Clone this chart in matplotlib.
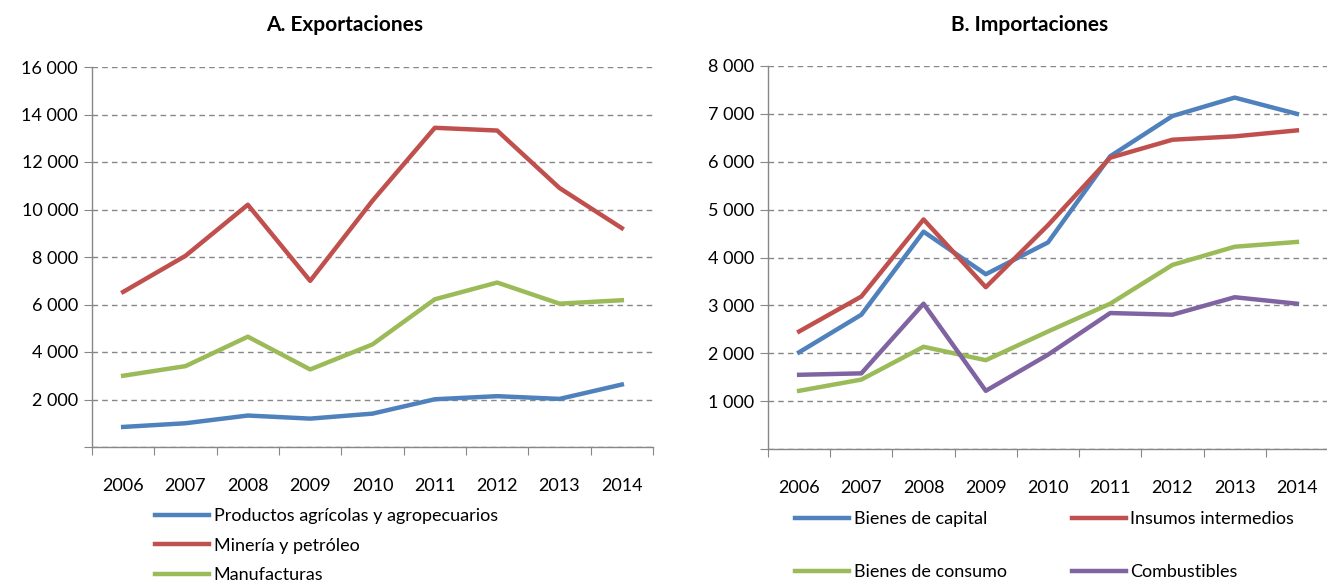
import numpy as np
import matplotlib
matplotlib.use("Agg")
import matplotlib.pyplot as plt
from matplotlib.ticker import FixedLocator, FuncFormatter

plt.rcParams.update({
    "font.family": ["Lato", "DejaVu Sans"],
    "font.size": 13,
})

years = ["2006", "2007", "2008", "2009", "2010", "2011", "2012", "2013", "2014"]

# A. Exportaciones
agricolas = [845, 1000, 1325, 1195, 1405, 2010, 2140, 2025, 2630]
mineria = [6530, 8050, 10200, 6995, 10370, 13440, 13325, 10905, 9215]
manufacturas = [3000, 3405, 4645, 3265, 4320, 6220, 6925, 6035, 6180]

# B. Importaciones
capital = [2020, 2805, 4540, 3650, 4315, 6115, 6955, 7340, 7000]
intermedios = [2455, 3185, 4795, 3380, 4675, 6085, 6460, 6530, 6655]
consumo = [1215, 1450, 2135, 1855, 2455, 3035, 3845, 4225, 4325]
combustibles = [1550, 1580, 3035, 1215, 1970, 2840, 2805, 3170, 3035]

BLUE, RED, GREEN, PURPLE = "#4F81BD", "#C0504D", "#9BBB59", "#8064A2"
GRID = "#878787"

fig = plt.figure(figsize=(13.27, 5.86), dpi=100)
ax1 = fig.add_axes([92 / 1327, 139 / 586, 561 / 1327, 380 / 586])
ax2 = fig.add_axes([768 / 1327, 137 / 586, 560 / 1327, 383 / 586])

x = np.arange(len(years))
# Excel-style: thin separator, no label at zero
thousands = FuncFormatter(lambda v, p: "" if v == 0 else f"{int(v):,}".replace(",", " "))


def style(ax, ymax, step):
    ax.set_xlim(-0.5, len(years) - 0.5)
    ax.set_ylim(0, ymax)
    ax.xaxis.set_major_locator(FixedLocator(np.arange(-0.5, len(years), 1.0)))
    ax.xaxis.set_minor_locator(FixedLocator(x))
    ax.set_xticklabels([])
    ax.set_xticklabels(years, minor=True)
    ax.tick_params(axis="x", which="major", length=6, color=GRID, direction="out")
    ax.tick_params(axis="x", which="minor", length=0, pad=22, labelsize=13)
    ax.set_yticks(np.arange(0, ymax + 1, step))
    ax.yaxis.set_major_formatter(thousands)
    ax.tick_params(axis="y", length=6, color=GRID, pad=4, labelsize=13)
    for s in ["top", "right"]:
        ax.spines[s].set_visible(False)
    for s in ["left", "bottom"]:
        ax.spines[s].set_color(GRID)
        ax.spines[s].set_linewidth(1.0)
    ax.yaxis.grid(True, linestyle=(0, (4, 3)), color=GRID, linewidth=1.0)
    ax.set_axisbelow(True)


lw = 3.2
ax1.plot(x, agricolas, color=BLUE, lw=lw, label="Productos agrícolas y agropecuarios")
ax1.plot(x, mineria, color=RED, lw=lw, label="Minería y petróleo")
ax1.plot(x, manufacturas, color=GREEN, lw=lw, label="Manufacturas")
style(ax1, 16000, 2000)

ax2.plot(x, capital, color=BLUE, lw=lw, label="Bienes de capital")
ax2.plot(x, intermedios, color=RED, lw=lw, label="Insumos intermedios")
ax2.plot(x, consumo, color=GREEN, lw=lw, label="Bienes de consumo")
ax2.plot(x, combustibles, color=PURPLE, lw=lw, label="Combustibles")
style(ax2, 8000, 1000)

fig.text(345 / 1327, 1 - 25 / 586, "A. Exportaciones", ha="center", va="center",
         fontsize=15, fontweight="bold")
fig.text(1030 / 1327, 1 - 25 / 586, "B. Importaciones", ha="center", va="center",
         fontsize=15, fontweight="bold")

ax1.legend(loc="upper left", bbox_to_anchor=(155 / 1327, 1 - 508 / 586),
           bbox_transform=fig.transFigure, frameon=False, handlelength=3.0,
           handletextpad=0.25, labelspacing=0.75, borderpad=0, borderaxespad=0,
           fontsize=13)

h, l = ax2.get_legend_handles_labels()
order = [0, 2, 1, 3]
ax2.legend([h[i] for i in order], [l[i] for i in order], ncol=2,
           loc="upper left", bbox_to_anchor=(795 / 1327, 1 - 511 / 586),
           bbox_transform=fig.transFigure, frameon=False, handlelength=3.0,
           handletextpad=0.25, labelspacing=2.05, columnspacing=3.6,
           borderpad=0, borderaxespad=0, fontsize=13)

fig.savefig("out.png", dpi=100)
